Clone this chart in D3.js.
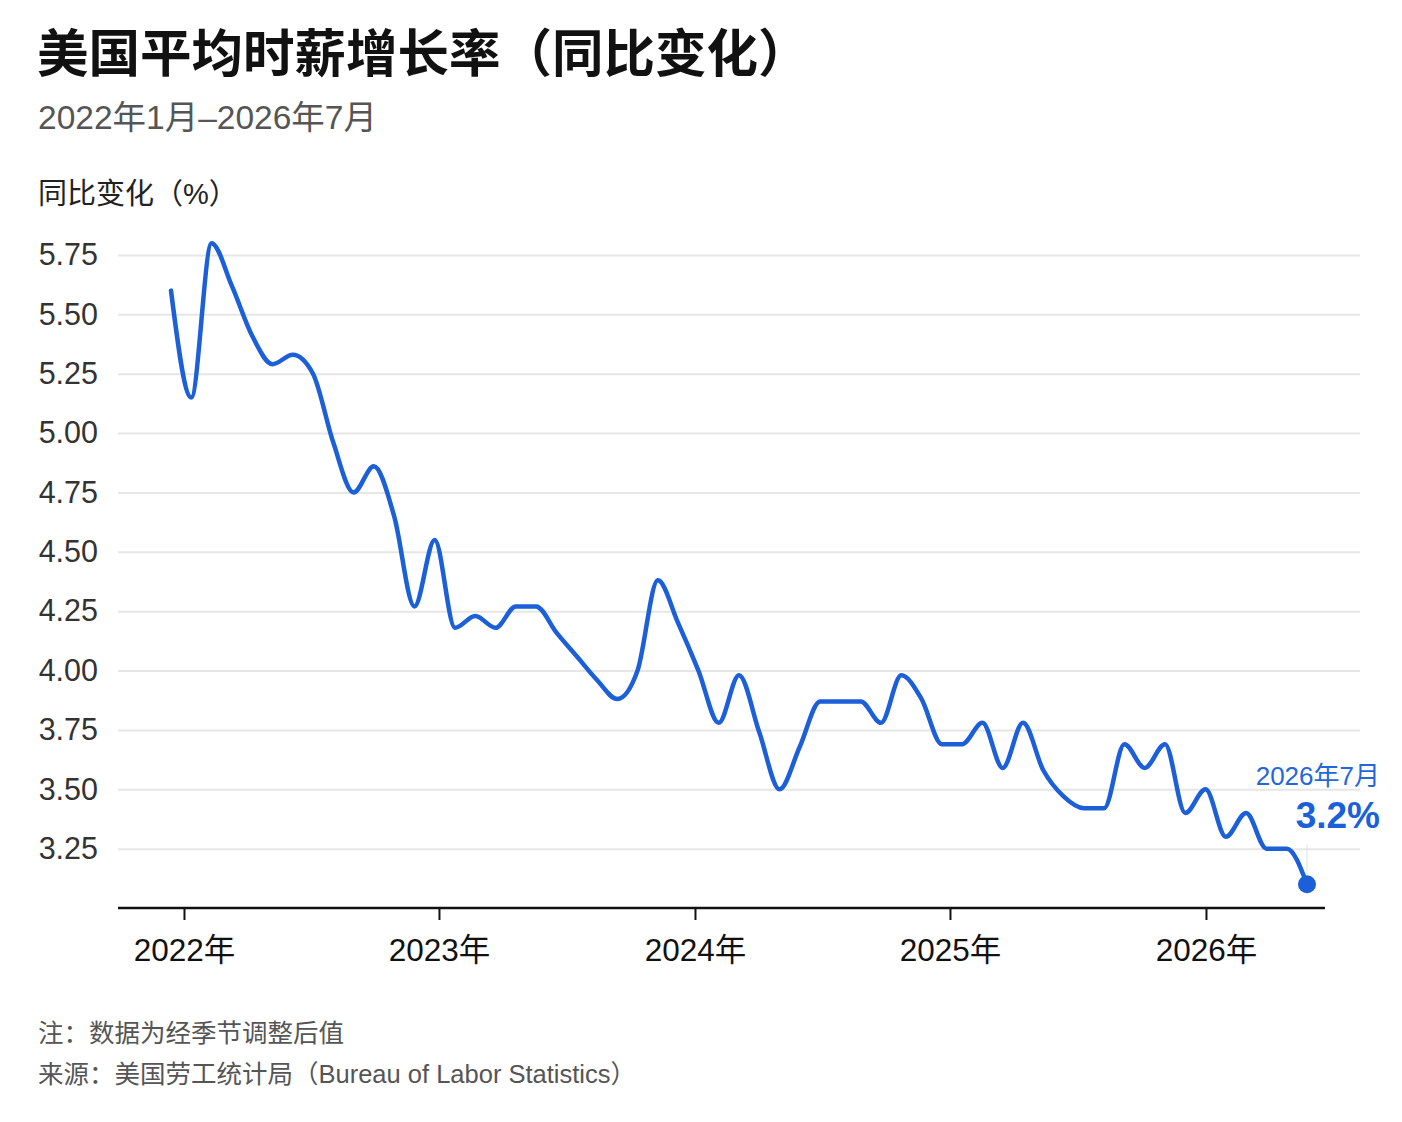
<!DOCTYPE html>
<html>
<head>
<meta charset="utf-8">
<script src="https://cdn.jsdelivr.net/npm/d3@7"></script>
<style>
  body { margin: 0; background: #fff; }
  svg { display: block; font-family: "Liberation Sans", "Noto Sans CJK SC", sans-serif; }
</style>
</head>
<body>
<svg id="chart" width="1402" height="1122"></svg>
<script>
// monthly yoy growth
const wageGrowth = [5.60, 5.15, 5.80, 5.62, 5.41, 5.29, 5.33, 5.25, 4.96, 4.75,
  4.86, 4.65, 4.27, 4.55, 4.18, 4.23, 4.18, 4.27, 4.27, 4.16,
  4.06, 3.96, 3.88, 4.00, 4.38, 4.20, 4.00, 3.78, 3.98, 3.74,
  3.50, 3.68, 3.87, 3.87, 3.87, 3.78, 3.98, 3.88, 3.69, 3.69,
  3.78, 3.59, 3.78, 3.58, 3.47, 3.42, 3.42, 3.69, 3.59, 3.69,
  3.40, 3.50, 3.30, 3.40, 3.25, 3.25, 3.10];
const yTicks = [3.25, 3.50, 3.75, 4.00, 4.25, 4.50, 4.75, 5.00, 5.25, 5.50, 5.75];
const yearLabels = ["2022年", "2023年", "2024年", "2025年", "2026年"];
const yearTickIdx = [0.64, 13.21, 25.83, 38.4, 51.02];//where the year ticks fall, in month index units
const lastLabel = "2026年7月";
const lastValueText = "3.2%";

const blue = "#1b5fd9";
const svg = d3.select("#chart");

const x = d3.scaleLinear().domain([0, wageGrowth.length - 1]).range([171, 1307]);
const y = d3.scaleLinear().domain([3.0, 5.75]).range([908, 255]);

// titles
svg.append("text").attr("x", 37).attr("y", 72)
  .style("font-size", "51.5px").style("font-weight", "bold").style("fill", "#111")
  .text("美国平均时薪增长率（同比变化）");
svg.append("text").attr("x", 38).attr("y", 129)
  .style("font-size", "33.5px").style("fill", "#555")
  .text("2022年1月–2026年7月");
svg.append("text").attr("x", 38).attr("y", 204)
  .style("font-size", "29px").style("fill", "#222")
  .text("同比变化（%）");

// y grid + labels
const gy = svg.append("g").attr("transform", "translate(118,0)")
  .call(d3.axisLeft(y).tickValues(yTicks).tickFormat(d3.format(".2f")).tickSize(-1242).tickPadding(20));
gy.select(".domain").remove();
gy.selectAll(".tick line").style("stroke", "#e6e6e6").style("stroke-width", 2);
gy.selectAll(".tick text").style("font-size", "30.5px").style("fill", "#333")
  .style("font-family", "\"Liberation Sans\", sans-serif");

// x axis
svg.append("line").attr("x1", 118).attr("x2", 1325).attr("y1", 908).attr("y2", 908)
  .style("stroke", "#111").style("stroke-width", 2.5);
const gx = svg.append("g").attr("transform", "translate(0,908)")
  .call(d3.axisBottom(x).tickValues(yearTickIdx)
    .tickFormat((d, i) => yearLabels[i]).tickSize(12).tickPadding(19));
gx.select(".domain").remove();
gx.selectAll(".tick line").style("stroke", "#111").style("stroke-width", 2);
gx.selectAll(".tick text").style("font-size", "31.5px").style("fill", "#111")
  .style("font-family", "\"Liberation Sans\", \"Noto Sans CJK SC\", sans-serif");

// line
const line = d3.line().x((d, i) => x(i)).y(d => y(d)).curve(d3.curveMonotoneX);
svg.append("path").datum(wageGrowth).attr("d", line)
  .style("fill", "none").style("stroke", blue).style("stroke-width", 4.5)
  .style("stroke-linecap", "round").style("stroke-linejoin", "round");

// end point + annotation
const li = wageGrowth.length - 1;
const lx = x(li), ly = y(wageGrowth[li]);
svg.append("line").attr("x1", lx).attr("x2", lx).attr("y1", ly - 40).attr("y2", ly - 9)
  .style("stroke", "#e3e3e3").style("stroke-width", 1);
svg.append("circle").attr("cx", lx).attr("cy", ly).attr("r", 9).style("fill", blue);
svg.append("text").attr("x", 1380).attr("y", ly - 99).attr("text-anchor", "end")
  .style("font-size", "26px").style("fill", "#2466dc").text(lastLabel);
svg.append("text").attr("x", 1380).attr("y", ly - 56).attr("text-anchor", "end")
  .style("font-size", "37px").style("font-weight", "bold").style("fill", blue).text(lastValueText);

// footer
svg.append("text").attr("x", 38).attr("y", 1042)
  .style("font-size", "25.5px").style("fill", "#555").text("注：数据为经季节调整后值");
svg.append("text").attr("x", 38).attr("y", 1083)
  .style("font-size", "25.5px").style("fill", "#555").text("来源：美国劳工统计局（Bureau of Labor Statistics）");
</script>
</body>
</html>
